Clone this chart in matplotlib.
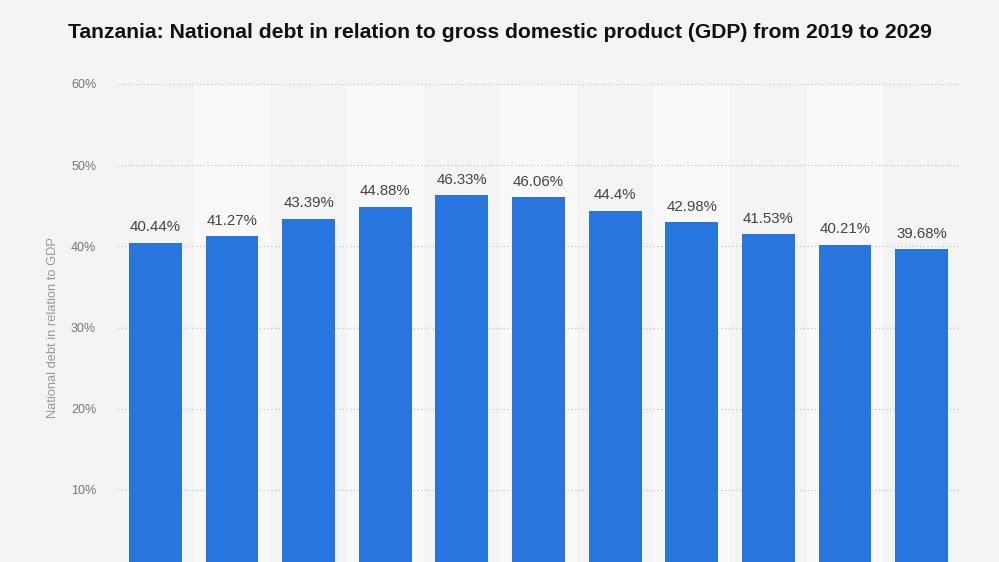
import matplotlib
matplotlib.use("Agg")
import matplotlib.pyplot as plt

years = ["2019", "2020", "2021", "2022", "2023", "2024", "2025", "2026", "2027", "2028", "2029"]
values = [40.44, 41.27, 43.39, 44.88, 46.33, 46.06, 44.4, 42.98, 41.53, 40.21, 39.68]
labels = ["40.44%", "41.27%", "43.39%", "44.88%", "46.33%", "46.06%", "44.4%", "42.98%", "41.53%", "40.21%", "39.68%"]
yticks = [10, 20, 30, 40, 50, 60]

plt.rcParams['font.family'] = ['Liberation Sans', 'DejaVu Sans']

fig = plt.figure(figsize=(9.99, 5.62), dpi=100)
fig.patch.set_facecolor("#f4f4f4")
ax = fig.add_axes([117/999, -9/562, (960-117)/999, (571-84)/562])
ax.set_facecolor("#f4f4f4")

x = list(range(len(years)))
for i in x:
    if i % 2 == 1:
        ax.axvspan(i - 0.5, i + 0.5, color="#f9f9f9", zorder=0, lw=0)

ax.bar(x, values, width=0.69, color="#2876dd", zorder=3)
for xi, v, lab in zip(x, values, labels):
    ax.annotate(lab, (xi, v), xytext=(0, 6), textcoords="offset points",
                ha="center", va="bottom", fontsize=10.8, color="#444444", zorder=4)

ax.set_xlim(-0.5, len(years) - 0.5)
ax.set_ylim(0, 60)
ax.set_yticks(yticks)
ax.set_yticklabels([f"{t}%" for t in yticks])
ax.yaxis.grid(True, linestyle=(0, (1, 2)), color="#c8c8c8", linewidth=0.9, zorder=1)
ax.set_axisbelow(True)
ax.tick_params(axis="y", length=0, pad=15, labelsize=9, labelcolor="#777777")
ax.set_xticks([])
for s in ax.spines.values():
    s.set_visible(False)

fig.text(53/999, 1 - 328/562, "National debt in relation to GDP", rotation=90,
         ha="center", va="center", fontsize=9.3, color="#999999")

fig.text(0.5, 1 - 33/562, "Tanzania: National debt in relation to gross domestic product (GDP) from 2019 to 2029",
         ha="center", va="center", fontsize=15.2, fontweight="bold", color="#111111")

fig.savefig("out.png", dpi=100, facecolor=fig.get_facecolor())
